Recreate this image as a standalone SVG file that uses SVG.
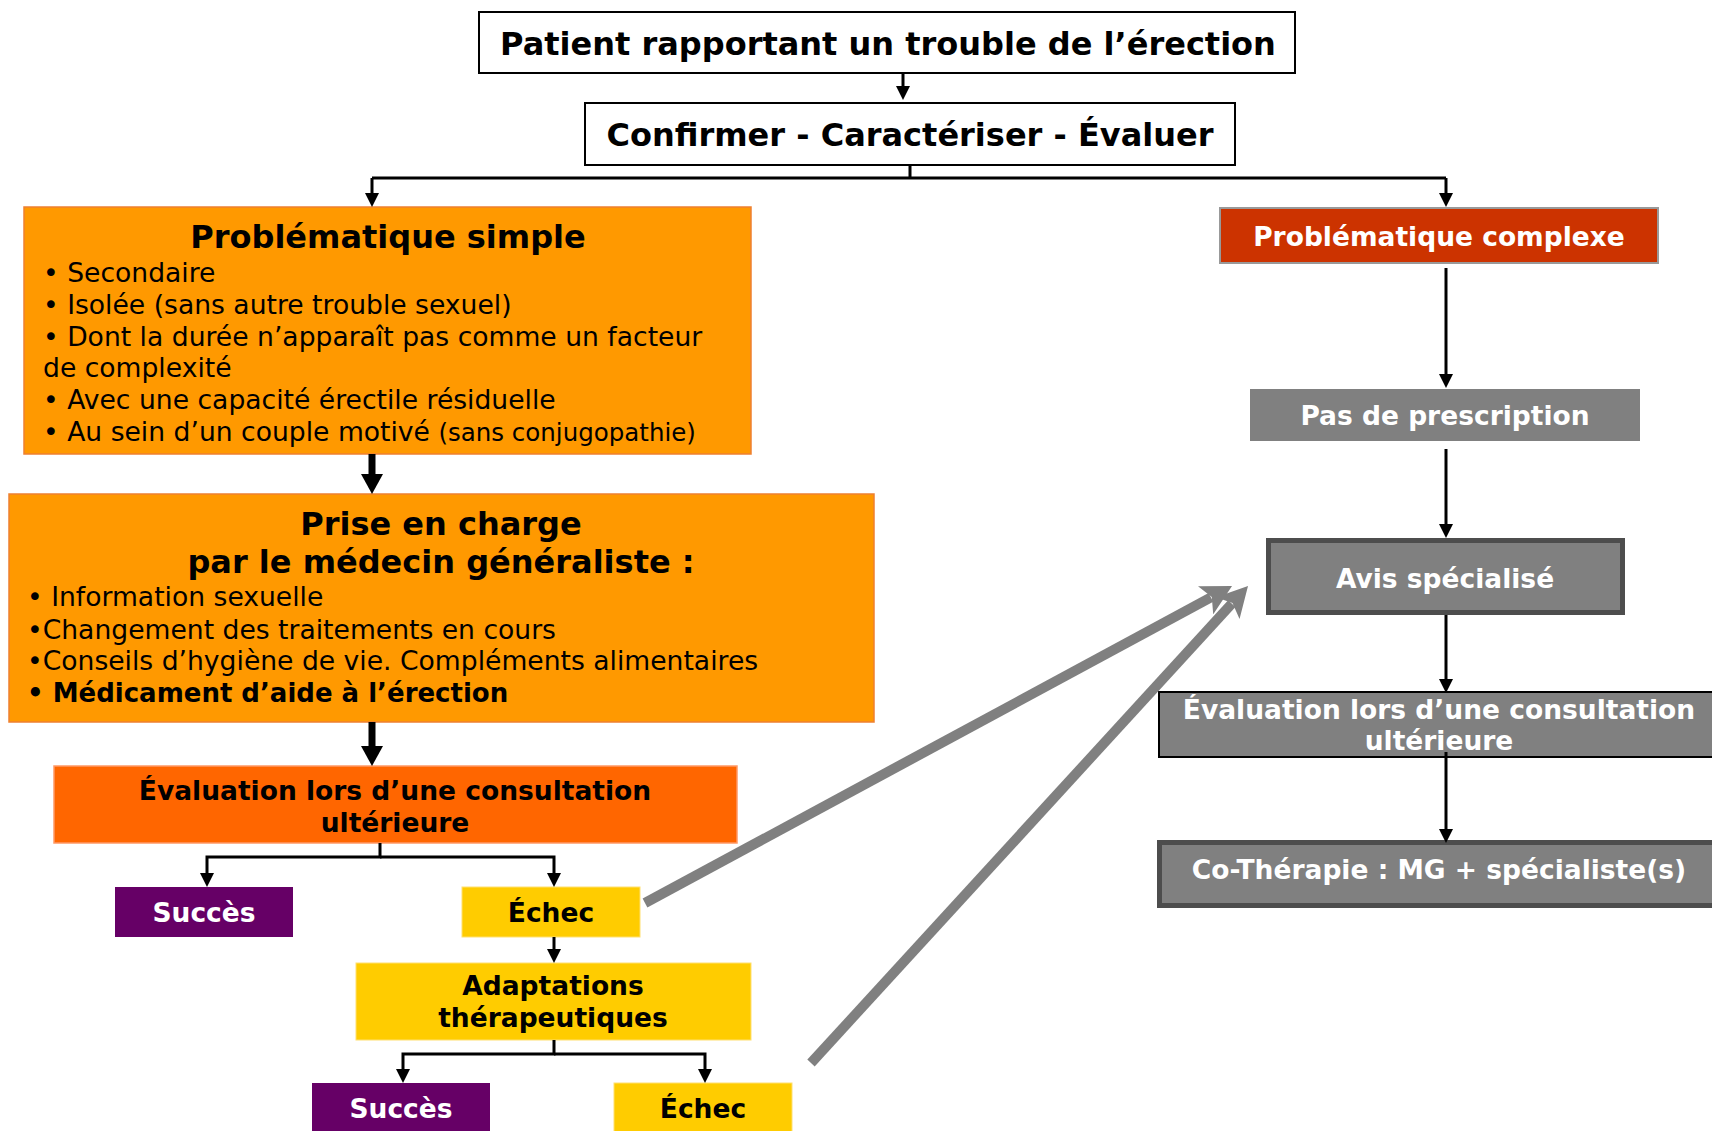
<svg xmlns="http://www.w3.org/2000/svg" width="1712" height="1131" viewBox="0 0 1712 1131">
<style>
text{font-family:"DejaVu Sans",Verdana,sans-serif;fill:#000}
.h{font-size:32px;font-weight:bold;text-anchor:middle}
.m{font-size:26.5px;font-weight:bold;text-anchor:middle}
.r{font-size:26.6px}
.w{fill:#fff}
.ln{fill:none;stroke:#000;stroke-width:3}
.thk{fill:none;stroke:#000;stroke-width:7}
.gr{fill:none;stroke:#808080;stroke-width:10}
</style>
<defs>
<marker id="ah" markerUnits="userSpaceOnUse" markerWidth="14" markerHeight="14" viewBox="0 0 14 14" refX="4" refY="7" orient="auto"><path d="M0,0 L14,7 L0,14 z" fill="#000"/></marker>
<marker id="ahk" markerUnits="userSpaceOnUse" markerWidth="20" markerHeight="22" viewBox="0 0 20 22" refX="4" refY="11" orient="auto"><path d="M0,0 L20,11 L0,22 z" fill="#000"/></marker>
<marker id="ahg" markerUnits="userSpaceOnUse" markerWidth="30" markerHeight="32" viewBox="0 0 30 32" refX="6" refY="16" orient="auto"><path d="M0,0 L30,16 L0,32 L7,16 z" fill="#808080"/></marker>
</defs>

<g id="n-patient"><rect x="479" y="12" width="816" height="61" fill="#fff" stroke="#000" stroke-width="2"/><text class="h" x="888" y="55">Patient rapportant un trouble de l’érection</text></g>
<g id="n-confirmer"><rect x="585" y="103" width="650" height="62" fill="#fff" stroke="#000" stroke-width="2"/><text class="h" x="910" y="146">Confirmer - Caractériser - Évaluer</text></g>

<g id="n-simple"><rect x="24" y="207" width="727" height="247" fill="#FF9900" stroke="#EE8030" stroke-width="1.5"/>
<text class="h" x="388" y="248">Problématique simple</text>
<text class="r" x="43" y="282">• Secondaire</text>
<text class="r" x="43" y="314">• Isolée (sans autre trouble sexuel)</text>
<text class="r" x="43" y="346">• Dont la durée n’apparaît pas comme un facteur</text>
<text class="r" x="43" y="377">de complexité</text>
<text class="r" x="43" y="409">• Avec une capacité érectile résiduelle</text>
<text class="r" x="43" y="441">• Au sein d’un couple motivé <tspan font-size="24.5">(sans conjugopathie)</tspan></text></g>

<g id="n-prise"><rect x="9" y="494" width="865" height="228" fill="#FF9900" stroke="#EE8030" stroke-width="1.5"/>
<text class="h" x="441" y="535">Prise en charge</text>
<text class="h" x="441" y="573">par le médecin généraliste :</text>
<text class="r" x="27" y="606">• Information sexuelle</text>
<text class="r" x="27" y="639">•Changement des traitements en cours</text>
<text class="r" x="27" y="670">•Conseils d’hygiène de vie. Compléments alimentaires</text>
<text x="27" y="702" font-size="26" font-weight="bold">• Médicament d’aide à l’érection</text></g>

<g id="n-eval1"><rect x="54" y="766" width="683" height="77" fill="#FF6600" stroke="#FF9966" stroke-width="1.5"/>
<text class="m" x="395" y="800">Évaluation lors d’une consultation</text>
<text class="m" x="395" y="832">ultérieure</text></g>

<g id="n-succes1"><rect x="115" y="887" width="178" height="50" fill="#660066"/><text class="m w" x="204" y="922">Succès</text></g>
<g id="n-echec1"><rect x="462" y="887" width="178" height="50" fill="#FFCC00" stroke="#FFE070" stroke-width="1"/><text class="m" x="551" y="922">Échec</text></g>
<g id="n-adapt"><rect x="356" y="963" width="395" height="77" fill="#FFCC00" stroke="#FFE070" stroke-width="1"/>
<text class="m" x="553" y="995">Adaptations</text>
<text class="m" x="553" y="1027">thérapeutiques</text></g>
<g id="n-succes2"><rect x="312" y="1083" width="178" height="52" fill="#660066"/><text class="m w" x="401" y="1118">Succès</text></g>
<g id="n-echec2"><rect x="614" y="1083" width="178" height="52" fill="#FFCC00" stroke="#FFE070" stroke-width="1"/><text class="m" x="703" y="1118">Échec</text></g>

<g id="n-complexe"><rect x="1220" y="208" width="438" height="55" fill="#CC3300" stroke="#999" stroke-width="2"/><text class="m w" x="1439" y="246">Problématique complexe</text></g>
<g id="n-pas"><rect x="1250" y="389" width="390" height="52" fill="#808080"/><text class="m w" x="1445" y="425">Pas de prescription</text></g>
<g id="n-avis"><rect x="1268.5" y="540.5" width="354" height="72" fill="#808080" stroke="#4D4D4D" stroke-width="5"/><text class="m w" x="1445" y="588">Avis spécialisé</text></g>
<g id="n-eval2"><rect x="1159" y="692" width="600" height="65" fill="#808080" stroke="#000" stroke-width="2"/>
<text class="m w" x="1439" y="719">Évaluation lors d’une consultation</text>
<text class="m w" x="1439" y="750">ultérieure</text></g>
<g id="n-cotherapie"><rect x="1159.5" y="842.5" width="600" height="63" fill="#808080" stroke="#4D4D4D" stroke-width="5"/><text class="m w" x="1439" y="879" font-size="26.8">Co-Thérapie : MG + spécialiste(s)</text></g>

<g id="connectors">
<path class="ln" d="M903,73 V90" marker-end="url(#ah)"/>
<path class="ln" d="M910,165 V178 M372,178 H1446"/>
<path class="ln" d="M372,178 V197" marker-end="url(#ah)"/>
<path class="ln" d="M1446,178 V197" marker-end="url(#ah)"/>
<path class="thk" d="M372,454 V478" marker-end="url(#ahk)"/>
<path class="thk" d="M372,722 V750" marker-end="url(#ahk)"/>
<path class="ln" d="M380,843 V857 H207 V877" marker-end="url(#ah)"/>
<path class="ln" d="M380,857 H554 V877" marker-end="url(#ah)"/>
<path class="ln" d="M554,937 V953" marker-end="url(#ah)"/>
<path class="ln" d="M554,1040 V1054 H403 V1073" marker-end="url(#ah)"/>
<path class="ln" d="M554,1054 H705 V1073" marker-end="url(#ah)"/>
<path class="ln" d="M1446,268 V378" marker-end="url(#ah)"/>
<path class="ln" d="M1446,449 V528" marker-end="url(#ah)"/>
<path class="ln" d="M1446,615 V683" marker-end="url(#ah)"/>
<path class="ln" d="M1446,752 V833" marker-end="url(#ah)"/>
<path class="gr" d="M645,903 L1210.9,597.4" marker-end="url(#ahg)"/>
<path class="gr" d="M811,1063 L1231.8,603.7" marker-end="url(#ahg)"/>
</g>
</svg>
